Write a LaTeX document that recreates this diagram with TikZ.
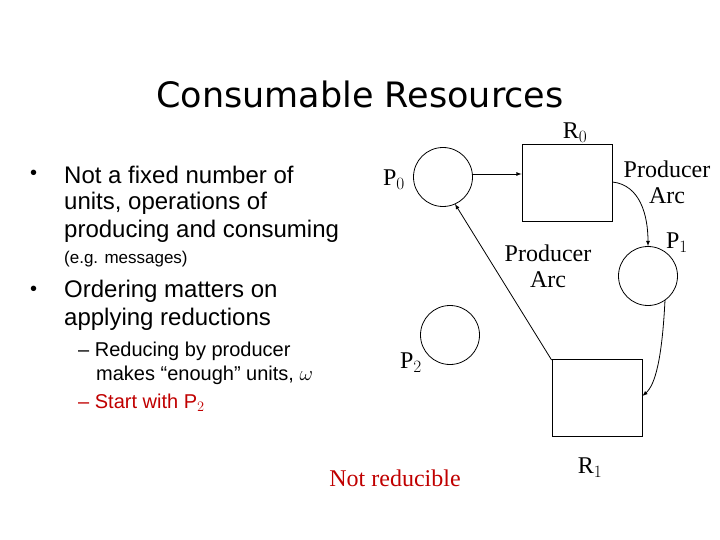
\documentclass[tikz,border=0pt]{standalone}
\usepackage{fontspec}
\setmainfont{Liberation Serif}
\newfontfamily\arial{Liberation Sans}
\newfontfamily\titlefont{DejaVu Sans}
\definecolor{darkred}{RGB}{192,0,0}
\begin{document}
\begin{tikzpicture}[x=1pt, y=-1pt,
  place/.style={draw, thick, circle, minimum size=59pt, inner sep=0pt},
  res/.style={draw, thick, rectangle, minimum width=90pt, minimum height=77pt},
  lbl/.style={font=\fontsize{24}{26}\selectfont, inner sep=0pt},
  bul/.style={font=\arial\fontsize{24}{28}\selectfont, anchor=west, inner sep=0pt},
  sub/.style={font=\arial\fontsize{20}{24}\selectfont, anchor=west, inner sep=0pt},
  arc/.style={thick, -latex}]
  \useasboundingbox (0, 0) rectangle (720, 540);

  \node[font=\titlefont\fontsize{35}{40}\selectfont] (title) at (360, 94) {Consumable Resources};

  % bullets
  \node[bul] (b1a) at (64, 175) {Not a fixed number of};
  \node[sub] at (30, 175) {•};
  \node[bul] (b1b) at (64, 203) {units, operations of};
  \node[bul] (b1c) at (64, 231) {producing and consuming};
  \node[sub, font=\arial\fontsize{17}{20}\selectfont] (b1d) at (64, 259) {(e.g. messages)};
  \node[bul] (b2a) at (64, 291) {Ordering matters on};
  \node[sub] at (30, 291) {•};
  \node[bul] (b2b) at (64, 319) {applying reductions};
  \node[sub] (s1a) at (78, 351) {– Reducing by producer};
  \node[sub] (s1b) at (96, 375) {makes “enough” units, $\omega$};
  \node[sub, text=darkred] (s2) at (78, 403) {– Start with P$_2$};

  % graph
  \node[place] (p0) at (443, 177) {};
  \node[res] (r0) at (567, 183) {};
  \node[place] (p1) at (648, 276) {};
  \node[place] (p2) at (450, 335) {};
  \node[res] (r1) at (597, 398) {};

  \node[lbl] (p0l) at (394, 180) {P$_0$};
  \node[lbl] (r0l) at (575, 133) {R$_0$};
  \node[lbl] (p1l) at (677, 243) {P$_1$};
  \node[lbl] (p2l) at (411, 363) {P$_2$};
  \node[lbl] (r1l) at (590, 468) {R$_1$};
  \node[lbl, align=center] (arc1) at (667, 182) {Producer\\Arc};
  \node[lbl, align=center] (arc2) at (548, 266) {Producer\\Arc};
  \node[lbl, text=darkred] (nr) at (395, 478) {Not reducible};

  \draw[arc] (p0.east |- 0, 174) -- (r0.west |- 0, 174);
  \draw[arc] (r0.east |- 0, 182) .. controls (640, 185) and (648, 215) .. (p1.north);
  \draw[arc] (665, 300) .. controls (662, 360) and (655, 385) .. (r1.east |- 0, 396);
  \draw[arc] (r1.north west |- 583, 360) -- (455, 204);
\end{tikzpicture}
\end{document}
